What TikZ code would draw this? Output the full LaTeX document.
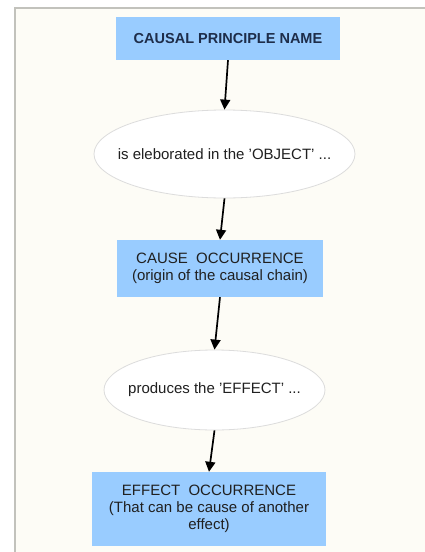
\documentclass[tikz,border=0pt]{standalone}
\usepackage{fontspec}
\setmainfont{Liberation Sans}
\usetikzlibrary{arrows.meta,shapes.geometric}
\definecolor{pagebg}{HTML}{FDFCF6}
\definecolor{framegray}{HTML}{C2C2BC}
\definecolor{boxblue}{HTML}{99CCFF}
\definecolor{titlenavy}{HTML}{1E2D4A}
\definecolor{textdark}{HTML}{202020}
\definecolor{ovalline}{HTML}{DCDCDC}
\tikzset{
  stepbox/.style={rectangle, fill=boxblue, draw=none, inner sep=0pt,
    align=center, text=textdark, font=\fontsize{15}{16.8}\selectfont},
  titlebox/.style={stepbox, text=titlenavy, font=\fontsize{14.5}{17}\selectfont\bfseries},
  oval/.style={ellipse, fill=white, draw=ovalline, line width=0.8pt,
    inner xsep=-20pt, inner ysep=0pt,
    align=center, text=textdark, font=\fontsize{15}{17}\selectfont},
  flow/.style={draw=black, line width=1.7pt,
    -{Triangle[width=10pt,length=10pt]}, shorten >=0pt}
}
\begin{document}
\begin{tikzpicture}[x=1pt,y=-1pt]
\useasboundingbox (0,0) rectangle (425,552);
% page background and frame
\fill[white] (0,0) rectangle (425,552);
\fill[pagebg] (15,8) rectangle (425,552);
\draw[framegray, line width=2pt] (14.5,552) -- (14.5,7.5) -- (425,7.5);

% flow elements
\node[titlebox, minimum width=224pt, minimum height=43pt] (name) at (228,38.5)
  {CAUSAL PRINCIPLE NAME};
\node[oval, minimum width=261pt, minimum height=88pt] (object) at (224.5,154)
  {is eleborated in the 'OBJECT' ...};
\node[stepbox, minimum width=206pt, minimum height=57pt] (cause) at (220,268.5)
  {CAUSE\ \ OCCURRENCE\\(origin of the causal chain)};
\node[oval, minimum width=221pt, minimum height=80pt] (produces) at (214.5,390)
  {produces the 'EFFECT' ...};
\node[stepbox, minimum width=234pt, minimum height=74pt] (effect) at (209,509)
  {EFFECT\ \ OCCURRENCE\\(That can be cause of another\\effect)};

% connectors
\draw[flow] (name.south) -- (object.north);
\draw[flow] (object.south) -- (cause.north);
\draw[flow] (cause.south) -- (produces.north);
\draw[flow] (produces.south) -- (effect.north);
\end{tikzpicture}
\end{document}
